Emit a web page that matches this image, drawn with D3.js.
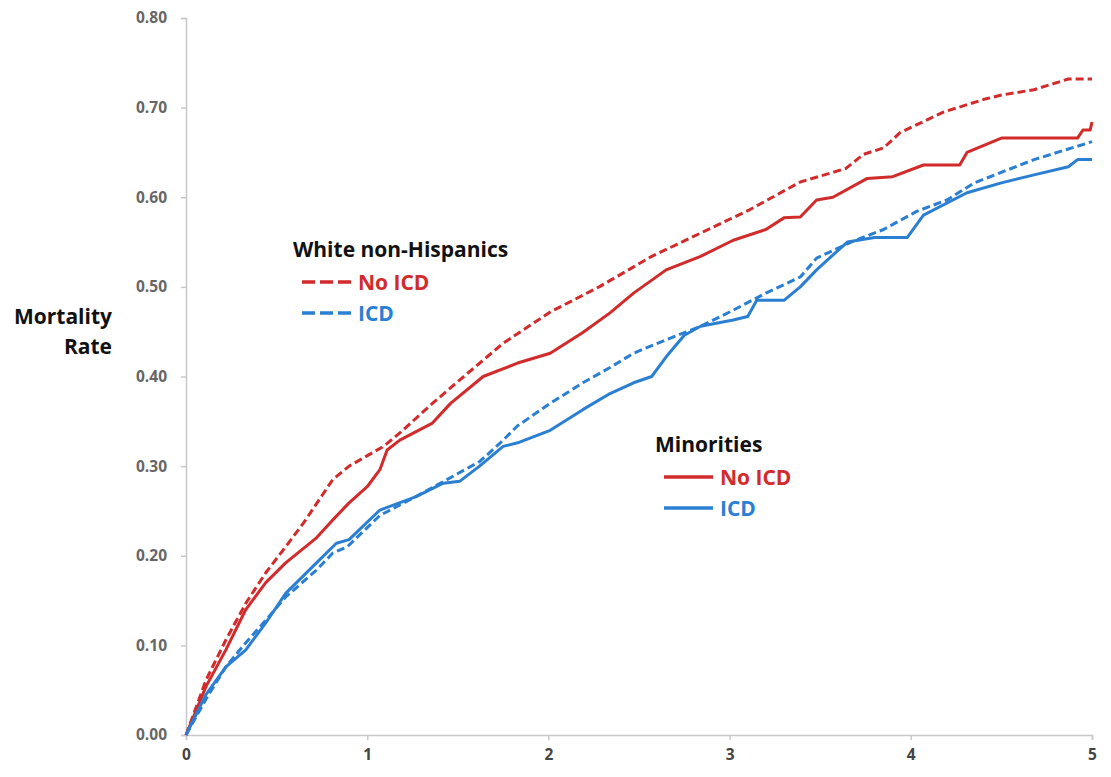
<!DOCTYPE html>
<html>
<head>
<meta charset="utf-8">
<script src="https://cdn.jsdelivr.net/npm/d3@7"></script>
<style>
  body { margin: 0; background: #fff; }
  svg { display: block; }
</style>
</head>
<body>
<svg id="chart" width="1111" height="777"></svg>
<script>
// Kaplan-Meier style mortality curves (years, rate)
const whiteNoIcdT = [0, 0.11, 0.22, 0.33, 0.44, 0.55, 0.65, 0.81, 0.9, 1.09, 1.18, 1.36, 1.51, 1.75, 2.01, 2.28, 2.57, 2.84, 3.11, 3.39, 3.64, 3.74, 3.85, 3.94, 4.18, 4.4, 4.5, 4.68, 4.87, 5.0];
const whiteNoIcdV = [0, 0.061, 0.106, 0.147, 0.181, 0.21, 0.237, 0.285, 0.30, 0.322, 0.337, 0.37, 0.396, 0.437, 0.472, 0.50, 0.534, 0.56, 0.586, 0.617, 0.632, 0.648, 0.655, 0.672, 0.695, 0.709, 0.714, 0.72, 0.732, 0.732];

const whiteIcdT = [0, 0.11, 0.22, 0.33, 0.44, 0.55, 0.72, 0.81, 0.89, 1.07, 1.25, 1.44, 1.62, 1.73, 1.83, 2.01, 2.19, 2.34, 2.47, 2.65, 2.84, 3.02, 3.2, 3.39, 3.48, 3.67, 3.85, 4.03, 4.2, 4.35, 4.68, 5.0];
const whiteIcdV = [0, 0.04, 0.076, 0.103, 0.128, 0.154, 0.184, 0.203, 0.21, 0.245, 0.264, 0.285, 0.305, 0.325, 0.345, 0.37, 0.393, 0.41, 0.426, 0.441, 0.456, 0.474, 0.493, 0.511, 0.532, 0.55, 0.564, 0.584, 0.597, 0.616, 0.642, 0.662];

const minorNoIcdT = [0, 0.11, 0.22, 0.33, 0.44, 0.55, 0.72, 0.81, 0.9, 1.0, 1.07, 1.11, 1.18, 1.36, 1.46, 1.64, 1.83, 2.01, 2.19, 2.34, 2.47, 2.65, 2.84, 3.02, 3.2, 3.3, 3.39, 3.48, 3.57, 3.76, 3.9, 4.07, 4.27, 4.31, 4.5, 4.92, 4.95, 4.99, 5.0];
const minorNoIcdV = [0, 0.054, 0.095, 0.14, 0.17, 0.192, 0.22, 0.24, 0.259, 0.277, 0.296, 0.318, 0.329, 0.348, 0.37, 0.40, 0.415, 0.426, 0.449, 0.471, 0.493, 0.519, 0.534, 0.552, 0.564, 0.577, 0.578, 0.597, 0.60, 0.621, 0.623, 0.636, 0.636, 0.65, 0.666, 0.666, 0.675, 0.675, 0.684];

const minorIcdT = [0, 0.11, 0.22, 0.33, 0.44, 0.55, 0.72, 0.83, 0.9, 1.07, 1.27, 1.42, 1.51, 1.62, 1.75, 1.83, 2.01, 2.19, 2.34, 2.47, 2.57, 2.65, 2.75, 2.84, 3.02, 3.1, 3.15, 3.3, 3.39, 3.48, 3.6, 3.65, 3.8, 3.98, 4.07, 4.31, 4.5, 4.68, 4.87, 4.92, 5.0];
const minorIcdV = [0, 0.045, 0.076, 0.095, 0.125, 0.158, 0.192, 0.214, 0.218, 0.251, 0.266, 0.281, 0.283, 0.30, 0.322, 0.326, 0.34, 0.363, 0.381, 0.393, 0.40, 0.422, 0.446, 0.456, 0.463, 0.467, 0.485, 0.485, 0.50, 0.519, 0.541, 0.55, 0.555, 0.555, 0.58, 0.605, 0.616, 0.625, 0.634, 0.642, 0.642];

const xTicks = [0, 1, 2, 3, 4, 5];
const yTicks = [0, 0.1, 0.2, 0.3, 0.4, 0.5, 0.6, 0.7, 0.8];

const red = '#d12b2b';
const blue = '#2b7fd2';

const series = [
  { t: whiteNoIcdT, v: whiteNoIcdV, color: red, dash: '8,4' },
  { t: whiteIcdT, v: whiteIcdV, color: blue, dash: '8,4' },
  { t: minorNoIcdT, v: minorNoIcdV, color: red, dash: null },
  { t: minorIcdT, v: minorIcdV, color: blue, dash: null },
];

const svg = d3.select('#chart');

// plot area
const plotLeft = 186;
const plotRight = 1092;
const plotTop = 18;
const plotBottom = 735;

const x = d3.scaleLinear().domain([0, 5]).range([plotLeft, plotRight]);
const y = d3.scaleLinear().domain([0, 0.8]).range([plotBottom, plotTop]);

const axisColor = '#c8c8c8';
const tickFont = '"Open Sans", sans-serif';

// y axis
const yAxis = svg.append('g')
  .attr('transform', `translate(${plotLeft},0)`)
  .call(d3.axisLeft(y).tickValues(yTicks).tickSize(5).tickPadding(14).tickFormat(d3.format('.2f')));
yAxis.select('.domain').attr('stroke', axisColor).attr('stroke-width', 1.5);
yAxis.selectAll('.tick line').attr('stroke', axisColor).attr('stroke-width', 1.5);
yAxis.selectAll('.tick text')
  .attr('fill', '#666')
  .style('font-family', tickFont)
  .style('font-size', '15.5px')
  .style('font-weight', 700);

// x axis
const xAxis = svg.append('g')
  .attr('transform', `translate(0,${plotBottom})`)
  .call(d3.axisBottom(x).tickValues(xTicks).tickSize(5).tickPadding(9).tickFormat(d3.format('d')));
xAxis.select('.domain').attr('stroke', axisColor).attr('stroke-width', 1.5);
xAxis.selectAll('.tick line').attr('stroke', axisColor).attr('stroke-width', 1.5);
xAxis.selectAll('.tick text')
  .attr('fill', '#444')
  .style('font-family', tickFont)
  .style('font-size', '15.5px')
  .style('font-weight', 700);

// y axis title
const yTitle = svg.append('text')
  .attr('text-anchor', 'end')
  .attr('fill', '#111')
  .style('font-family', '"Open Sans", sans-serif')
  .style('font-size', '21px')
  .style('font-weight', 700);
yTitle.append('tspan').attr('x', 112).attr('y', 324).text('Mortality');
yTitle.append('tspan').attr('x', 112).attr('y', 354).text('Rate');

// curves
const line = d3.line()
  .x((d) => x(d[0]))
  .y((d) => y(d[1]));

series.forEach((s) => {
  svg.append('path')
    .datum(s.t.map((t, i) => [t, s.v[i]]))
    .attr('d', line)
    .attr('fill', 'none')
    .attr('stroke', s.color)
    .attr('stroke-width', 3)
    .attr('stroke-linejoin', 'round')
    .attr('stroke-dasharray', s.dash);
});

// legends
const legendFont = '"Open Sans", sans-serif';

const drawLegend = (lx, ly, title, dash) => {
  const g = svg.append('g').attr('transform', `translate(${lx},${ly})`);
  g.append('text')
    .attr('x', 0)
    .attr('y', 0)
    .attr('fill', '#111')
    .style('font-family', legendFont)
    .style('font-size', '21px')
    .style('font-weight', 700)
    .text(title);
  [['No ICD', red], ['ICD', blue]].forEach(([label, color], i) => {
    const rowY = 25 + i * 31;
    g.append('line')
      .attr('x1', 9).attr('x2', 58)
      .attr('y1', rowY).attr('y2', rowY)
      .attr('stroke', color)
      .attr('stroke-width', 3.5)
      .attr('stroke-dasharray', dash);
    g.append('text')
      .attr('x', 65)
      .attr('y', rowY + 8)
      .attr('fill', color)
      .style('font-family', legendFont)
      .style('font-size', '21px')
      .style('font-weight', 700)
      .text(label);
  });
};

drawLegend(293, 257, 'White non-Hispanics', '13,5');
drawLegend(655, 452, 'Minorities', null);
</script>
</body>
</html>
